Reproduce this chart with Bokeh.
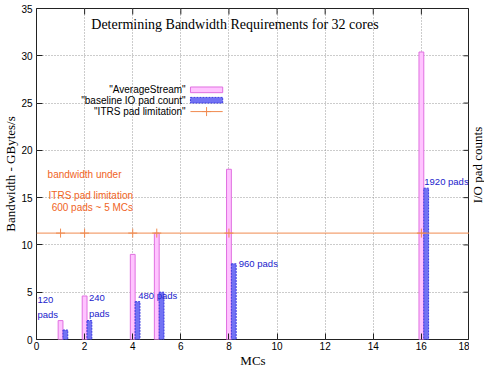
import math
from bokeh.plotting import figure
from bokeh.layouts import row
from bokeh.models import Range1d, Span, FixedTicker
from bokeh.core.properties import value
from bokeh.embed import file_html
from bokeh.resources import INLINE

# Memory controllers per configuration
mcs = [1, 2, 4, 5, 8, 16]
# Average stream bandwidth (GBytes/s)
avg_stream = [2.0, 4.6, 9.0, 11.25, 18.0, 30.4]
# Baseline IO pad counts (one pad step of 120 per GBytes/s)
pad_counts = [120, 240, 480, 600, 960, 1920]
pads_per_gb = 120
# ITRS pad limitation, expressed as bandwidth
itrs_limit = 11.25
itrs_marks = [1, 2, 4, 5, 8, 16]

x_ticks = [0, 2, 4, 6, 8, 10, 12, 14, 16, 18]
y_ticks = [0, 5, 10, 15, 20, 25, 30, 35]

title_text = "Determining Bandwidth Requirements for 32 cores"
legend_labels = ['"AverageStream"', '"baseline IO pad count"', '"ITRS pad limitation"']
right_title = "I/O pad counts"

# pad labels and where their text sits
pad_label_text = ["120\npads", "240\npads", "480 pads", "960 pads", "1920 pads"]
pad_label_x = [0.04, 2.18, 4.23, 8.41, 16.12]
pad_label_y = [4.85, 5.0, 5.23, 8.62, 17.25]

note_lines = ["bandwidth under", "ITRS pad limitation", "600 pads ~ 5 MCs"]
note_x = [0.46, 0.5, 0.63]
note_y = [17.5, 15.2, 13.94]

SANS = "Liberation Sans"
SERIF = "Liberation Serif"
PINK_FILL = "#ffc4ff"
PINK_LINE = "#e070e0"
BLUE_FILL = "#7272f4"
BLUE_LINE = "#3a3ae0"
ORANGE = "#f08a50"
ORANGE_TEXT = "#f0641e"
BLUE_TEXT = "#2222cc"
FRAME = "#222222"

X0, X1 = 0, 18
Y0, Y1 = 0, 35
W_MAIN, W_SIDE, H = 469, 15, 370

p = figure(width=W_MAIN, height=H, output_backend="svg", toolbar_location=None,
           x_range=Range1d(X0, X1), y_range=Range1d(Y0, Y1),
           min_border_left=35, min_border_right=0, min_border_top=8, min_border_bottom=26)
p.extra_y_ranges = {"pads": Range1d(Y0 * pads_per_gb, Y1 * pads_per_gb)}
p.background_fill_color = "white"
p.border_fill_color = "white"
p.outline_line_color = FRAME
p.outline_line_width = 1

for g in (p.xgrid[0], p.ygrid[0]):
    g.grid_line_color = "#999999"
    g.grid_line_dash = "1 2"
    g.grid_line_width = 1
p.xgrid.ticker = FixedTicker(ticks=x_ticks)
p.ygrid.ticker = FixedTicker(ticks=y_ticks)

def style_axis(ax, ticks):
    ax.ticker = FixedTicker(ticks=ticks)
    ax.major_tick_in = 6
    ax.major_tick_out = 0
    ax.minor_tick_line_color = None
    ax.axis_line_color = None
    ax.major_tick_line_color = FRAME
    ax.major_label_text_font = SANS
    ax.major_label_text_font_size = "10px"
    ax.major_label_text_color = "black"
    ax.axis_label_text_font = SERIF
    ax.axis_label_text_font_style = "normal"
    ax.axis_label_text_font_size = "13px"
    ax.axis_label_text_color = "black"

xa = p.xaxis[0]
style_axis(xa, x_ticks)
xa.major_label_standoff = 2
xa.axis_label = "MCs"
xa.axis_label_standoff = 0

ya = p.yaxis[0]
style_axis(ya, y_ticks)
ya.major_label_standoff = 4
ya.axis_label = "Bandwidth - GBytes/s"
ya.axis_label_standoff = 0

# mirrored tick marks on the top and right edges
tick_dx = 6 / (430 / (X1 - X0))
tick_dy = 6 / (334 / (Y1 - Y0))
p.segment(x0=[X1 - tick_dx] * len(y_ticks), x1=[X1] * len(y_ticks), y0=y_ticks, y1=y_ticks,
          line_color=FRAME, line_width=1)
p.segment(x0=x_ticks, x1=x_ticks, y0=[Y1 - tick_dy] * len(x_ticks), y1=[Y1] * len(x_ticks),
          line_color=FRAME, line_width=1)

# bars: bandwidth on the left scale, pad counts on the right scale
p.vbar(x=mcs, top=avg_stream, width=0.2, fill_color=PINK_FILL, line_color=PINK_LINE, line_width=1)
p.vbar(x=[m + 0.2 for m in mcs], top=pad_counts, width=0.2, y_range_name="pads",
       fill_color=BLUE_FILL, line_color=BLUE_LINE, line_width=1, line_dash="2 1")

# ITRS limitation line with point markers
p.add_layout(Span(location=itrs_limit, dimension="width", line_color=ORANGE, line_width=1))
p.scatter(x=itrs_marks, y=[itrs_limit] * len(itrs_marks), marker="cross", size=9,
          line_color=ORANGE, line_width=1)

# title inside the frame
p.text(x=[8.25], y=[33.3], text=[title_text], text_font=value(SERIF), text_font_size="14px",
       text_align="center", text_baseline="middle", text_color="black")

# pad count labels
p.text(x=pad_label_x, y=pad_label_y, text=pad_label_text, text_font=value(SANS),
       text_font_size="9.5px", text_align="left", text_baseline="top", text_color=BLUE_TEXT,
       text_line_height=1.4)

# limitation note
p.text(x=note_x, y=note_y, text=note_lines, text_font=value(SANS), text_font_size="10px",
       text_align="left", text_baseline="middle", text_color=ORANGE_TEXT)

# key
key_text_x = 6.2
key_left, key_right = 6.4, 7.74
key_rows = [26.4, 25.3, 24.1]
key_h = 0.6
p.text(x=[key_text_x] * 3, y=key_rows, text=legend_labels, text_font=value(SANS),
       text_font_size="10px", text_align="right", text_baseline="middle", text_color="black")
p.quad(left=[key_left], right=[key_right], bottom=[key_rows[0] - key_h / 2], top=[key_rows[0] + key_h / 2],
       fill_color=PINK_FILL, line_color=PINK_LINE, line_width=1)
p.quad(left=[key_left], right=[key_right], bottom=[key_rows[1] - key_h / 2], top=[key_rows[1] + key_h / 2],
       fill_color=BLUE_FILL, line_color=BLUE_LINE, line_width=1, line_dash="2 1")
p.line(x=[key_left, key_right], y=[key_rows[2]] * 2, line_color=ORANGE, line_width=1)
p.scatter(x=[(key_left + key_right) / 2], y=[key_rows[2]], marker="cross", size=9,
          line_color=ORANGE, line_width=1)

# narrow strip on the right holding the pad-count axis title, reading bottom to top
side = figure(width=W_SIDE, height=H, output_backend="svg", toolbar_location=None,
              x_range=Range1d(0, W_SIDE), y_range=Range1d(0, H),
              min_border_left=0, min_border_right=0, min_border_top=0, min_border_bottom=0)
side.axis.visible = False
side.grid.visible = False
side.outline_line_color = None
side.background_fill_color = "white"
side.border_fill_color = "white"
side.text(x=[W_SIDE / 2], y=[H - 175], text=[right_title], angle=math.pi / 2,
          text_font=value(SERIF), text_font_size="13px", text_align="center",
          text_baseline="middle", text_color="black")

layout = row(p, side, spacing=0)
open("out.html", "w").write(file_html(layout, INLINE))
